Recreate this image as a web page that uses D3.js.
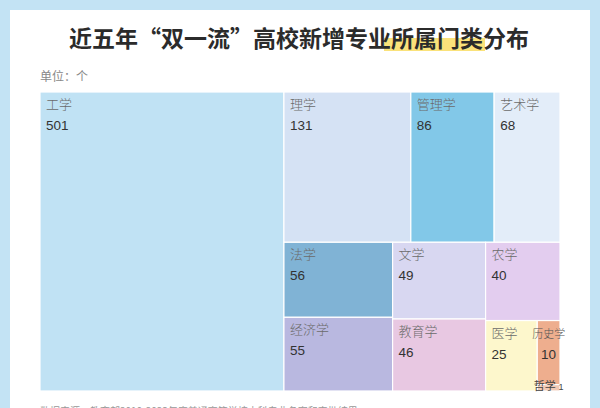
<!DOCTYPE html>
<html>
<head>
<meta charset="utf-8">
<script src="https://cdn.jsdelivr.net/npm/d3@7/dist/d3.min.js"></script>
<style>
  body { margin: 0; background: #c3e3f4; }
  svg { display: block; }
</style>
</head>
<body>
<div id="chart"></div>
<script>
var width = 600, height = 408;

// 门类与新增专业数量
var names = ['工学', '理学', '管理学', '艺术学', '法学', '经济学', '文学', '教育学', '农学', '医学', '历史学', '哲学'];
var values = [501, 131, 86, 68, 56, 55, 49, 46, 40, 25, 10, 1];
var colors = ['#c0e2f4', '#d5e2f4', '#82c8e8', '#e3edf9', '#80b3d5', '#b9b8e0',
              '#d8d7f1', '#e8c8e2', '#e3cdef', '#fdf7cc', '#eeae8e', '#f1c9b5'];

var svg = d3.select('#chart').append('svg')
  .attr('width', width)
  .attr('height', height);

// 白色卡片
svg.append('rect')
  .attr('x', 10).attr('y', 10)
  .attr('width', 580).attr('height', 420)
  .attr('fill', '#fff');

// 标题 + 高亮
svg.append('rect')
  .attr('x', 384).attr('y', 38)
  .attr('width', 101).attr('height', 13)
  .attr('fill', '#fae27a');

svg.append('text')
  .attr('x', 299).attr('y', 47)
  .attr('text-anchor', 'middle')
  .attr('font-family', '"Noto Sans CJK SC"')
  .attr('font-weight', 'bold')
  .attr('font-size', 23)
  .attr('fill', '#2b2b2b')
  .text('近五年“双一流”高校新增专业所属门类分布');

svg.append('text')
  .attr('x', 40).attr('y', 81)
  .attr('font-family', '"Noto Sans CJK SC"')
  .attr('font-size', 12)
  .attr('fill', '#888')
  .text('单位：个');

// 树图
var data = {
  children: names.map(function(d, i) {
    return { name: d, value: values[i], color: colors[i] };
  })
};

var root = d3.hierarchy(data)
  .sum(function(d) { return d.value || 0; })
  .sort(function(a, b) { return b.value - a.value; });

d3.treemap()
  .tile(d3.treemapSquarify)
  .size([520, 299])
  .paddingInner(0)(root);

var g = svg.append('g').attr('transform', 'translate(40, 92)');

var cell = g.selectAll('g.cell')
  .data(root.leaves())
  .enter()
  .append('g')
  .attr('class', 'cell')
  .attr('transform', function(d) { return 'translate(' + d.x0 + ',' + d.y0 + ')'; });

cell.append('rect')
  .attr('width', function(d) { return d.x1 - d.x0; })
  .attr('height', function(d) { return d.y1 - d.y0; })
  .attr('fill', function(d) { return d.data.color; })
  .attr('stroke', '#fff')
  .attr('stroke-width', 1.2);

// 宽格子：左上角标签
var wide = cell.filter(function(d) { return d.x1 - d.x0 > 40; });

wide.append('text')
  .attr('x', 6).attr('y', 17)
  .attr('font-family', '"Noto Sans CJK SC"')
  .attr('font-weight', 300)
  .attr('font-size', 13)
  .attr('fill', '#6b6b6b')
  .text(function(d) { return d.data.name; });

wide.append('text')
  .attr('x', 6).attr('y', 38)
  .attr('font-family', '"Liberation Sans", Arial, sans-serif')
  .attr('font-size', 13.5)
  .attr('fill', '#333')
  .text(function(d) { return d.data.value; });

// 窄格子：居中标签
var narrow = cell.filter(function(d) { return d.x1 - d.x0 <= 40 && d.y1 - d.y0 > 20; });

narrow.append('text')
  .attr('x', function(d) { return (d.x1 - d.x0) / 2; })
  .attr('y', 17)
  .attr('text-anchor', 'middle')
  .attr('font-family', '"Noto Sans CJK SC"')
  .attr('font-weight', 300)
  .attr('font-size', 11)
  .attr('fill', '#555')
  .text(function(d) { return d.data.name; });

narrow.append('text')
  .attr('x', function(d) { return (d.x1 - d.x0) / 2; })
  .attr('y', 38)
  .attr('text-anchor', 'middle')
  .attr('font-family', '"Liberation Sans", Arial, sans-serif')
  .attr('font-size', 13.5)
  .attr('fill', '#333')
  .text(function(d) { return d.data.value; });

// 极小格子：标签贴在格子底部
var tiny = cell.filter(function(d) { return d.y1 - d.y0 <= 20 || d.x1 - d.x0 <= 4; });

tiny.each(function(d) {
  var t = d3.select(this).append('text')
    .attr('x', (d.x1 - d.x0) / 2)
    .attr('y', d.y1 - d.y0 - 1)
    .attr('text-anchor', 'middle')
    .attr('font-family', '"Noto Sans CJK SC"')
    .attr('font-size', 11)
    .attr('fill', '#444');
  t.append('tspan').text(d.data.name);
  t.append('tspan')
    .attr('dx', 3)
    .attr('font-family', '"Liberation Sans", Arial, sans-serif')
    .attr('font-size', 9)
    .text(d.data.value);
});

// 数据来源
svg.append('text')
  .attr('x', 40).attr('y', 415)
  .attr('font-family', '"Noto Sans CJK SC"')
  .attr('font-size', 10)
  .attr('fill', '#999')
  .text('数据来源：教育部2019-2023年度普通高等学校本科专业备案和审批结果');
</script>
</body>
</html>
